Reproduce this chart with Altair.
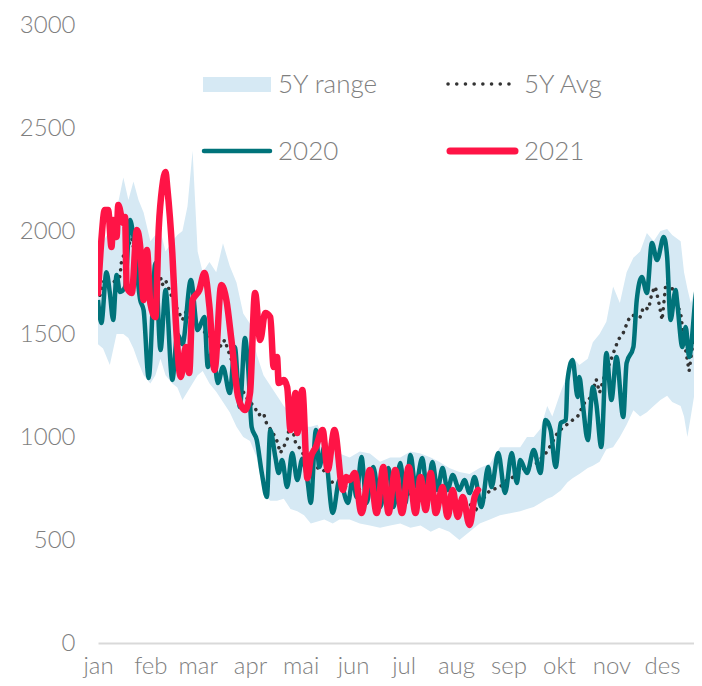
import altair as alt
import pandas as pd

# ---------------- data ----------------
months = ["jan", "feb", "mar", "apr", "mai", "jun", "jul", "aug", "sep", "okt", "nov", "des"]
month_start = [0, 31, 59, 90, 120, 151, 181, 212, 243, 273, 304, 334]
y_ticks = [0, 500, 1000, 1500, 2000, 2500, 3000]

band_days = [0, 3, 7, 11, 15, 18, 21, 24, 27, 31, 34, 37, 40, 44, 47, 50, 53, 56, 59, 62,
             66, 70, 74, 78, 82, 86, 90, 94, 98, 102, 106, 110, 114, 118, 122, 126, 130, 134,
             139, 143, 149, 155, 161, 167, 173, 179, 185, 191, 197, 202, 208, 214, 220, 226,
             232, 238, 244, 250, 254, 258, 262, 266, 269, 274, 278, 281, 285, 290, 293, 297,
             301, 305, 309, 313, 317, 321, 325, 329, 333, 337, 340, 345, 347, 349, 351, 353,
             355, 358, 365]
band_high = [1750, 1950, 2000, 2100, 2260, 2150, 2240, 2150, 2090, 1950, 1980, 2000, 1900, 1950,
             1980, 2000, 2120, 2390, 1900, 1800, 1850, 1800, 1940, 1830, 1750, 1600, 1550, 1400,
             1300, 1250, 1200, 1150, 1120, 1100, 1050, 1050, 1060, 990, 950, 920, 900, 930, 920,
             880, 900, 900, 930, 920, 900, 880, 850, 830, 820, 850, 870, 950, 950, 950, 1000,
             1000, 1040, 1150, 1100, 1220, 1300, 1390, 1350, 1380, 1460, 1500, 1560, 1730, 1650,
             1800, 1870, 1900, 1990, 1950, 2000, 2010, 1980, 1950, 1800, 1720, 1650, 1700, 1760,
             1730, 1750]
band_low = [1450, 1430, 1350, 1500, 1500, 1480, 1430, 1360, 1300, 1260, 1300, 1380, 1300, 1260,
            1240, 1180, 1220, 1260, 1300, 1320, 1260, 1220, 1170, 1120, 1050, 1000, 980, 900,
            720, 690, 690, 700, 650, 640, 620, 580, 590, 600, 580, 600, 600, 580, 570, 560, 570,
            580, 560, 570, 540, 560, 540, 500, 540, 580, 600, 620, 630, 640, 650, 660, 680, 700,
            710, 740, 780, 800, 820, 850, 860, 880, 940, 950, 1000, 1060, 1130, 1100, 1120, 1150,
            1180, 1200, 1170, 1150, 1100, 1000, 1100, 1200, 1250, 1300, 1350]

avg_days = [0, 4, 9, 13, 14, 18, 20, 21, 25, 29, 34, 37, 38, 40, 44, 47, 50, 52, 56, 60, 65,
            69, 73, 75, 77, 81, 84, 88, 93, 95, 98, 100, 103, 106, 108, 112, 114, 117, 120, 124,
            130, 133, 139, 146, 152, 158, 164, 170, 176, 182, 188, 194, 200, 205, 211, 217, 221,
            224, 228, 232, 238, 242, 246, 250, 253, 260, 266, 272, 275, 281, 284, 288, 292, 295,
            297, 300, 303, 308, 311, 314, 316, 321, 323, 326, 328, 330, 332, 334, 336, 337, 340,
            342, 345, 346, 348, 350, 352, 356, 358, 365]
avg_vals = [1655, 1770, 1750, 1780, 1860, 1930, 1966, 1920, 1850, 1790, 1760, 1777, 1738, 1762,
            1675, 1620, 1568, 1607, 1560, 1525, 1500, 1460, 1440, 1471, 1422, 1330, 1250, 1190,
            1141, 1107, 1116, 1060, 1030, 980, 922, 985, 1085, 971, 940, 880, 850, 845, 777, 760,
            750, 740, 730, 735, 725, 720, 730, 715, 710, 700, 690, 680, 670, 650, 700, 740, 757,
            790, 806, 830, 854, 874, 930, 1019, 1044, 1082, 1100, 1165, 1194, 1280, 1215, 1300,
            1359, 1471, 1505, 1568, 1592, 1582, 1631, 1620, 1700, 1730, 1655, 1568, 1728, 1752,
            1720, 1660, 1602, 1534, 1420, 1320, 1440, 1550, 1590, 1600]

y2020_days = [0, 2, 5, 7, 9, 11, 13, 16, 19, 21, 25, 27, 30, 34, 37, 40, 44, 47, 50, 55, 59,
              63, 65, 68, 71, 74, 78, 81, 84, 87, 89, 91, 94, 97, 100, 102, 105, 107, 109, 112,
              115, 118, 121, 124, 126, 129, 131, 134, 139, 143, 148, 151, 153, 156, 159, 163,
              167, 172, 175, 179, 182, 185, 188, 192, 195, 198, 201, 204, 207, 210, 214, 217,
              220, 223, 227, 231, 233, 237, 241, 245, 248, 250, 254, 258, 262, 265, 268, 271,
              274, 277, 278, 281, 284, 285, 287, 290, 293, 295, 298, 301, 304, 307, 311, 313,
              317, 319, 322, 325, 328, 331, 335, 337, 339, 342, 343, 346, 348, 350, 355, 356,
              358, 362, 365]
y2020_vals = [1665, 1553, 1800, 1700, 1568, 1786, 1704, 1728, 2053, 1971, 1665, 1616, 1286, 1845,
              1422, 1713, 1277, 1500, 1450, 1762, 1519, 1582, 1340, 1422, 1262, 1340, 1213, 1437,
              1146, 1480, 1325, 1048, 985, 825, 709, 1034, 903, 825, 888, 757, 922, 791, 895, 791,
              680, 1034, 854, 951, 631, 791, 680, 806, 709, 903, 680, 854, 660, 849, 660, 874, 680,
              913, 760, 898, 728, 879, 743, 849, 743, 815, 743, 791, 728, 806, 660, 854, 757, 922,
              728, 922, 777, 888, 825, 937, 825, 1082, 1034, 854, 1068, 1082, 1277, 1374, 1194,
              1291, 1165, 985, 1243, 1165, 951, 1408, 1180, 1388, 1097, 1359, 1437, 1665, 1777,
              1699, 1942, 1859, 1971, 1874, 1568, 1713, 1650, 1437, 1534, 1388, 1728, 1699, 1650,
              1600, 1650]

y2021_days = [0, 2, 4, 6, 8, 9, 11, 12, 15, 16, 17, 20, 23, 25, 27, 29, 31, 34, 36, 38, 40,
              41, 44, 46, 49, 52, 54, 56, 60, 63, 66, 69, 73, 76, 79, 83, 87, 90, 93, 96, 99,
              102, 104, 106, 107, 110, 112, 114, 117, 118, 121, 124, 126, 129, 133, 136, 140,
              145, 147, 149, 152, 156, 161, 165, 169, 172, 176, 180, 184, 188, 191, 194, 197,
              200, 204, 207, 210, 213, 216, 220, 223, 225]
y2021_vals = [1699, 1956, 2102, 2102, 1922, 2053, 1971, 2126, 2039, 2068, 1728, 1699, 2005, 1922,
              1665, 1908, 1650, 1582, 2019, 2213, 2286, 2213, 1893, 1568, 1291, 1437, 1311, 1665,
              1713, 1796, 1631, 1325, 1738, 1665, 1471, 1194, 1131, 1213, 1699, 1471, 1602, 1582,
              1340, 1388, 1262, 1277, 1243, 1034, 1213, 1019, 1228, 800, 900, 951, 1034, 840, 1034,
              743, 806, 791, 825, 631, 840, 631, 854, 631, 840, 631, 854, 631, 806, 646, 825, 631,
              757, 612, 743, 612, 709, 573, 709, 743]

legend_labels = ["5Y range", "5Y Avg", "2020", "2021"]

# ---------------- styling ----------------
FONT = "Lato"
GREY = "#7f7f7f"
BAND = "#d6e9f4"
TEAL = "#00737a"
RED = "#ff1446"
DOT = "#333333"

band_df = pd.DataFrame({"day": band_days, "low": band_low, "high": band_high})
avg_df = pd.DataFrame({"day": avg_days, "value": avg_vals})
df20 = pd.DataFrame({"day": y2020_days, "value": y2020_vals})
df21 = pd.DataFrame({"day": y2021_days, "value": y2021_vals})

label_expr = ("[" + ",".join(f"'{m}'" for m in months) + "][indexof(["
              + ",".join(str(s) for s in month_start) + "], datum.value)]")

xscale = alt.Scale(domain=[0, 352.9], nice=False, zero=False)
yscale = alt.Scale(domain=[0, 3000], nice=False)

xaxis = alt.Axis(values=month_start, labelExpr=label_expr, title=None, grid=False,
                 ticks=False, tickSize=0, domain=True, domainColor="#d9d9d9", domainWidth=2,
                 labelFont=FONT, labelFontSize=24, labelFontWeight=300, labelColor=GREY,
                 labelPadding=11, labelFlush=False, labelOverlap=False, labelAlign="center")
yaxis = alt.Axis(values=y_ticks, format="d", title=None, grid=False, ticks=False, tickSize=0,
                 domain=False, labelFont=FONT, labelFontSize=24, labelFontWeight=300,
                 labelColor=GREY, labelPadding=23, labelOverlap=False)

x_enc = alt.X("day:Q", scale=xscale, axis=xaxis)

band = alt.Chart(band_df).mark_area(color=BAND, opacity=1, clip=True).encode(
    x=x_enc, y=alt.Y("low:Q", scale=yscale, axis=yaxis), y2="high:Q")

y_enc = alt.Y("value:Q", scale=yscale, axis=yaxis)

avg = alt.Chart(avg_df).mark_line(color=DOT, strokeWidth=3.5, strokeDash=[0.1, 7],
                                   strokeCap="round", clip=True).encode(x=x_enc, y=y_enc)
l20 = alt.Chart(df20).mark_line(color=TEAL, strokeWidth=4.5, interpolate="monotone",
                                 strokeJoin="round", clip=True).encode(x=x_enc, y=y_enc)
l21 = alt.Chart(df21).mark_line(color=RED, strokeWidth=6.5, interpolate="monotone",
                                 strokeJoin="round", strokeCap="round", clip=True).encode(x=x_enc, y=y_enc)

# ---------------- legend (drawn in plot-area pixels) ----------------
one = alt.Data(values=[{"k": 0}])
leg_rect = alt.Chart(one).mark_rect(color=BAND).encode(
    x=alt.value(105), x2=alt.value(173), y=alt.value(52), y2=alt.value(67))
leg_avg = alt.Chart(one).mark_rule(color=DOT, strokeWidth=3.5, strokeDash=[0.1, 8.6],
                                   strokeCap="round").encode(
    x=alt.value(350), x2=alt.value(419), y=alt.value(59))
leg_20 = alt.Chart(one).mark_rule(color=TEAL, strokeWidth=4.5, strokeCap="round").encode(
    x=alt.value(106), x2=alt.value(172), y=alt.value(126))
leg_21 = alt.Chart(one).mark_rule(color=RED, strokeWidth=7, strokeCap="round").encode(
    x=alt.value(352), x2=alt.value(417), y=alt.value(126))


def leg_text(label, xp, yp):
    return alt.Chart(one).mark_text(align="left", baseline="middle", font=FONT, fontSize=26,
                                    fontWeight=300, color=GREY).encode(
        x=alt.value(xp), y=alt.value(yp), text=alt.value(label))


texts = [leg_text(legend_labels[0], 180, 60), leg_text(legend_labels[1], 426, 60),
         leg_text(legend_labels[2], 180, 127), leg_text(legend_labels[3], 426, 127)]

chart = alt.layer(band, avg, l20, l21, leg_rect, leg_avg, leg_20, leg_21, *texts).properties(
    width=596, height=618,
    padding={"left": 90, "top": 17, "right": 0, "bottom": 35},
    autosize=alt.AutoSizeParams(type="none"),
    background="white",
).configure_view(stroke=None)

chart.save("out.html", embed_options={"renderer": "svg", "actions": False})
